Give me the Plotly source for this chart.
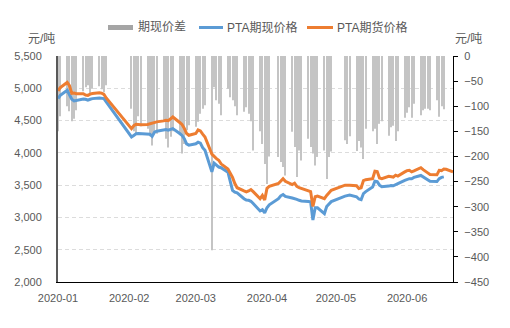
import plotly.graph_objects as go

# Trading days (ZCE), Jan 2 – Jun 22 2020
dates = (
    ["2020-01-%02d" % d for d in [2, 3, 6, 7, 8, 9, 10, 13, 14, 15, 16, 17, 20, 21, 22, 23]]
    + ["2020-02-%02d" % d for d in [3, 4, 5, 6, 7, 10, 11, 12, 13, 14, 17, 18, 19, 20, 21, 24, 25, 26, 27, 28]]
    + ["2020-03-%02d" % d for d in [2, 3, 4, 5, 6, 9, 10, 11, 12, 13, 16, 17, 18, 19, 20, 23, 24, 25, 26, 27, 30, 31]]
    + ["2020-04-%02d" % d for d in [1, 2, 3, 7, 8, 9, 10, 13, 14, 15, 16, 17, 20, 21, 22, 23, 24, 27, 28, 29, 30]]
    + ["2020-05-%02d" % d for d in [6, 7, 8, 11, 12, 13, 14, 15, 18, 19, 20, 21, 22, 25, 26, 27, 28, 29]]
    + ["2020-06-%02d" % d for d in [1, 2, 3, 4, 5, 8, 9, 10, 11, 12, 15, 16, 17, 18, 19, 22]]
)

# PTA futures price (元/吨)
futures = [
    4960, 5010, 5090, 5040, 4920, 4925, 4915, 4915, 4895, 4890, 4910, 4920, 4930, 4925, 4905, 4850,
    4376, 4420, 4443, 4440, 4435, 4440, 4450, 4465, 4470, 4480, 4495, 4505, 4500, 4530, 4556, 4470, 4440, 4380, 4300, 4272,
    4300, 4355, 4340, 4290, 4246, 3980, 3937, 3910, 3885, 3830, 3750, 3690, 3620, 3525, 3460, 3410, 3395, 3410, 3432, 3400, 3290, 3340,
    3270, 3450, 3480, 3525, 3560, 3600, 3560, 3510, 3530, 3480, 3460, 3450, 3420, 3400, 3170, 3320, 3330, 3290, 3340, 3390, 3420,
    3500, 3505, 3500, 3490, 3447, 3460, 3570, 3585, 3600, 3715, 3710, 3610, 3600, 3638, 3630, 3625, 3655, 3640,
    3705, 3725, 3730, 3705, 3720, 3770, 3740, 3720, 3690, 3665, 3660, 3730, 3725, 3750, 3745, 3705,
]

# PTA spot price (元/吨)
spot = [
    4840, 4890, 4970, 4900, 4830, 4805, 4815, 4835, 4830, 4815, 4830, 4840, 4850, 4850, 4840, 4790,
    4246, 4270, 4295, 4300, 4300, 4300, 4290, 4255, 4320, 4335, 4345, 4360, 4350, 4365, 4376, 4300, 4270, 4220, 4140, 4120,
    4140, 4165, 4150, 4080, 4040, 3705, 3840, 3810, 3780, 3770, 3700, 3560, 3420, 3390, 3380, 3290, 3270, 3265, 3250, 3215, 3100, 3120,
    3070, 3150, 3195, 3290, 3335, 3355, 3325, 3300, 3295, 3280, 3265, 3255, 3245, 3240, 2960, 3150, 3150, 3060, 3170, 3215, 3245,
    3330, 3340, 3345, 3320, 3285, 3275, 3370, 3400, 3470, 3560, 3555, 3500, 3475, 3485, 3495, 3490, 3510, 3525,
    3575, 3590, 3600, 3600, 3620, 3650, 3625, 3600, 3580, 3560, 3555, 3600, 3620, 3628, None, None,
]

# Spot-futures basis (元/吨)
basis = [
    -150, -120, -100, -110, -130, -125, -108, -70, -62, -58, -75, -65, -60, -66, -72, -58,
    -105, -150, -155, -120, -140, -145, -160, -178, -150, -155, -131, -165, -182, -161, -150, -155, -194, -175, -148, -138,
    -141, -131, -115, -105, -98, -387, -62, -88, -95, -118, -65, -82, -88, -100, -118, -111, -102, -115, -130, -188, -150, -175,
    -215, -255, -200, -201, -211, -221, -238, -151, -181, -241, -188, -208, -165, -181, -194, -218, -201, -188, -245, -201, -190,
    -168, -175, -160, -189, -169, -182, -205, -145, -150, -145, -175, -135, -130, -159, -142, -139, -169, -150,
    -123, -113, -102, -123, -95, -118, -108, -105, -105, -108, -88, -121, -100, -106, None, None,
]

month_ticks = ["2020-01-02", "2020-02-02", "2020-03-02", "2020-04-02", "2020-05-02", "2020-06-02"]
left_ticks = [2000, 2500, 3000, 3500, 4000, 4500, 5000, 5500]
right_ticks = list(range(-450, 1, 50))

W, H = 510, 328
ML, MR, MT, MB = 58, 57, 56, 46
PW, PH = W - ML - MR, H - MT - MB

BLUE = "#5B9BD5"
ORANGE = "#ED7D31"
GRAY = "#A5A5A5"
TXT = "#595959"
FONT = "Liberation Sans, Noto Sans CJK SC, sans-serif"


def px(x):
    return (x - ML) / PW


def py(y):
    return (H - MB - y) / PH


fig = go.Figure()

fig.add_trace(go.Bar(
    x=dates, y=basis, name="期现价差", yaxis="y",
    marker=dict(color="#C4C4C4", line=dict(width=0)),
    width=0.45 * 86400000, showlegend=False,
))
fig.add_trace(go.Scatter(
    x=dates, y=spot, name="PTA期现价格", yaxis="y2", mode="lines",
    line=dict(color=BLUE, width=3), showlegend=False,
))
fig.add_trace(go.Scatter(
    x=dates, y=futures, name="PTA期货价格", yaxis="y2", mode="lines",
    line=dict(color=ORANGE, width=3), showlegend=False,
))

# legend row
shapes = [
    dict(type="rect", xref="paper", yref="paper", x0=px(108), x1=px(133), y0=py(30), y1=py(25),
         fillcolor=GRAY, line=dict(width=0)),
    dict(type="line", xref="paper", yref="paper", x0=px(199), x1=px(223), y0=py(27.5), y1=py(27.5),
         line=dict(color=BLUE, width=3)),
    dict(type="line", xref="paper", yref="paper", x0=px(307), x1=px(333), y0=py(27.5), y1=py(27.5),
         line=dict(color=ORANGE, width=3)),
]
annotations = [
    dict(text="期现价差", x=px(136), y=py(27.5), xanchor="left", yanchor="middle"),
    dict(text="PTA期现价格", x=px(225), y=py(27.5), xanchor="left", yanchor="middle"),
    dict(text="PTA期货价格", x=px(335), y=py(27.5), xanchor="left", yanchor="middle"),
    dict(text="元/吨", x=px(41), y=py(39), xanchor="center", yanchor="middle"),
    dict(text="元/吨", x=px(468), y=py(39), xanchor="center", yanchor="middle"),
]
for a in annotations:
    a.update(xref="paper", yref="paper", showarrow=False, font=dict(size=12, color=TXT, family=FONT))

fig.update_layout(
    width=W, height=H,
    margin=dict(l=ML, r=MR, t=MT, b=MB),
    paper_bgcolor="white", plot_bgcolor="white",
    font=dict(family=FONT, size=11, color=TXT),
    showlegend=False,
    shapes=shapes, annotations=annotations,
    xaxis=dict(
        type="date", range=["2020-01-02", "2020-06-22"],
        tickvals=month_ticks, tickformat="%Y-%m",
        showline=True, linecolor="#000000", linewidth=1.3,
        showgrid=False, zeroline=False, ticks="", ticklabelstandoff=6,
        tickfont=dict(size=11, color=TXT),
    ),
    yaxis=dict(
        side="right", range=[-450, 0], tickvals=right_ticks,
        showline=True, linecolor="#000000", linewidth=1.3,
        ticks="outside", ticklen=4, tickcolor="#000000", tickwidth=1,
        showgrid=False, zeroline=False, ticklabelstandoff=4,
        tickfont=dict(size=11, color=TXT),
    ),
    yaxis2=dict(
        overlaying="y", side="left", range=[2000, 5500], tickvals=left_ticks,
        tickformat=",", showline=True, linecolor="#595959", linewidth=2,
        showgrid=True, gridcolor="#DCDCDC", griddash="4px,3px", gridwidth=1,
        zeroline=False, ticks="", ticklabelstandoff=12,
        tickfont=dict(size=11, color=TXT),
    ),
)

fig.write_html("out.html")
